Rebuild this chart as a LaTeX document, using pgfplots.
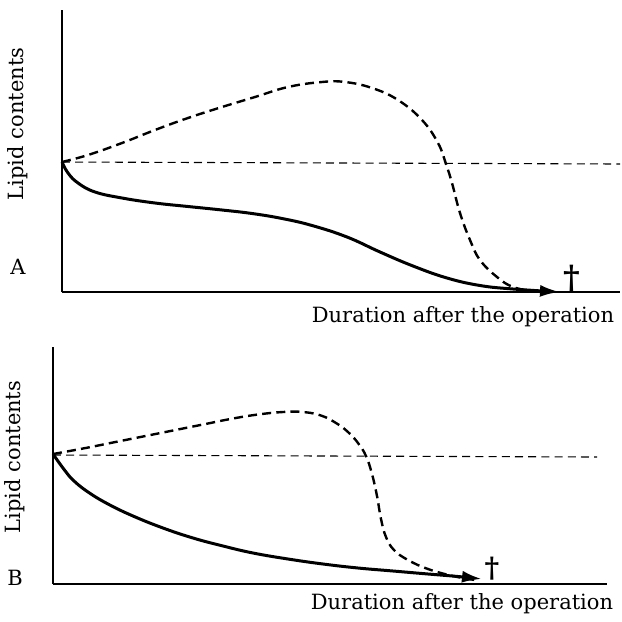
\documentclass[border=0pt]{standalone}
\usepackage{pgfplots}
\pgfplotsset{compat=1.18}
\usepackage{fontspec}
\setmainfont{DejaVu Serif}
\usetikzlibrary{arrows.meta}
\tikzset{lab/.style={font=\fontsize{10.5}{12}\selectfont}}
\begin{document}
\begin{tikzpicture}
\useasboundingbox (0,0) rectangle (311pt,-311pt);
\pgfplotsset{
  every axis/.append style={
    x=0.5pt, y=0.5pt, xmin=0, ymin=0,
    axis lines=left, axis line style={-, line width=0.65pt},
    xtick=\empty, ytick=\empty, clip=false,
  },
}
% Panel A
\begin{axis}[at={(31pt,-146pt)}, anchor=south west, xmax=558, ymax=282]
\addplot[line width=0.55pt, dash pattern=on 4pt off 2.6pt] coordinates {(0,130) (558,128)};
\addplot[smooth, tension=0.7, line width=1.2pt, dash pattern=on 4.5pt off 2.6pt] coordinates {(0,130) (26,137) (60,149) (93,162) (126,174) (160,185) (193,195) (226,205) (260,210) (283,210) (310,204) (336,192) (360,172) (376,149) (384,128) (390,109) (398,79) (408,52) (418,32) (435,15) (451,5) (470,1)};
\addplot[smooth, tension=0.7, line width=1.5pt, -{Latex[length=10pt,width=6pt]}] coordinates {(0,130) (6,119) (16,109) (33,100) (60,94) (93,89) (126,85.5) (160,82) (190,78.5) (220,73.5) (250,66.5) (285,55) (318,40) (351,26) (385,14) (418,6.5) (451,3) (498,0)};
\node[anchor=south, inner sep=0pt, font=\fontsize{16}{16}\bfseries\selectfont] at (axis cs:510,0) {†};
\node[lab, rotate=90] at (axis cs:-44,168) {Lipid contents};
\node[lab] at (axis cs:-44,25) {A};
\node[lab] at (axis cs:401,-25) {Duration after the operation};
\end{axis}
% Panel B
\begin{axis}[at={(26.5pt,-292pt)}, anchor=south west, xmax=554, ymax=237]
\addplot[line width=0.55pt, dash pattern=on 4pt off 2.6pt] coordinates {(0,129) (544,127)};
\addplot[smooth, tension=0.7, line width=1.2pt, dash pattern=on 4.5pt off 2.6pt] coordinates {(0,130) (30,135.5) (60,141.5) (90,147.5) (120,153.5) (150,159.5) (180,165.5) (205,169.5) (230,172) (250,172) (268,168.5) (283,161) (295,152) (305,141) (313,128) (319,110) (324,88) (328,65) (333,47) (341,34) (355,24) (375,15) (400,8) (422,4)};
\addplot[smooth, tension=0.7, line width=1.5pt, -{Latex[length=10pt,width=6pt]}] coordinates {(0,130) (10,116) (20,104) (35,92) (55,80) (80,68) (110,56) (140,46) (170,38) (200,31) (235,25) (270,20) (305,16) (340,13) (375,10) (405,7.5) (429,5)};
\node[anchor=south, inner sep=0pt, font=\fontsize{14}{14}\bfseries\selectfont] at (axis cs:439,3) {†};
\node[lab, rotate=90] at (axis cs:-38,127) {Lipid contents};
\node[lab] at (axis cs:-38,6) {B};
\node[lab] at (axis cs:409,-20) {Duration after the operation};
\end{axis}
\end{tikzpicture}
\end{document}
